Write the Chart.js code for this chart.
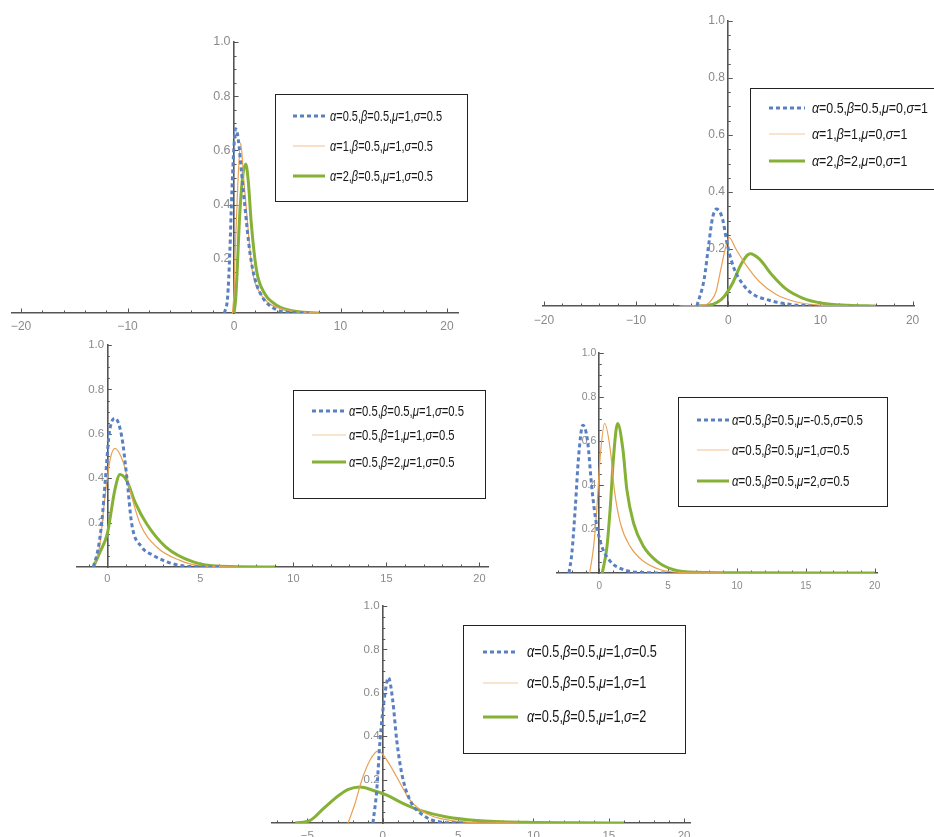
<!DOCTYPE html>
<html><head><meta charset="utf-8">
<script src="https://cdn.jsdelivr.net/npm/chart.js@4"></script>
<style>
html,body{margin:0;padding:0;background:#fff;width:934px;height:837px;overflow:hidden;position:relative;font-family:"Liberation Sans",Arial,sans-serif}
canvas{position:absolute}
.leg{position:absolute;border:1.4px solid #222;background:#fff;box-sizing:border-box}
.row{position:absolute;white-space:nowrap;transform-origin:0 50%;color:#161616;line-height:1}
.row i{font-style:italic}
svg.s{position:absolute;left:0;top:0;overflow:visible;pointer-events:none}
</style></head><body>
<script>
// ---------- tick labels ----------
const X_TICKS_WIDE = [-20, -10, 0, 10, 20];
const X_TICKS_POS = [0, 5, 10, 15, 20];
const X_TICKS_P5 = [-5, 0, 5, 10, 15, 20];
const Y_TICKS = [0.2, 0.4, 0.6, 0.8, 1.0];

// ---------- legend labels ----------
const LEG1 = ["α=0.5,β=0.5,μ=1,σ=0.5", "α=1,β=0.5,μ=1,σ=0.5", "α=2,β=0.5,μ=1,σ=0.5"];
const LEG2 = ["α=0.5,β=0.5,μ=0,σ=1", "α=1,β=1,μ=0,σ=1", "α=2,β=2,μ=0,σ=1"];
const LEG3 = ["α=0.5,β=0.5,μ=1,σ=0.5", "α=0.5,β=1,μ=1,σ=0.5", "α=0.5,β=2,μ=1,σ=0.5"];
const LEG4 = ["α=0.5,β=0.5,μ=-0.5,σ=0.5", "α=0.5,β=0.5,μ=1,σ=0.5", "α=0.5,β=0.5,μ=2,σ=0.5"];
const LEG5 = ["α=0.5,β=0.5,μ=1,σ=0.5", "α=0.5,β=0.5,μ=1,σ=1", "α=0.5,β=0.5,μ=1,σ=2"];

// ---------- panel 1 ----------
const P1_BLUE_X = [-0.9, -0.6, -0.4, -0.2, 0, 0.15, 0.4, 0.7, 1.0, 1.5, 2.0, 2.5, 3.0, 4.0, 5.0, 7.0];
const P1_BLUE_Y = [0, 0.06, 0.22, 0.45, 0.62, 0.68, 0.64, 0.52, 0.40, 0.22, 0.12, 0.07, 0.04, 0.012, 0.003, 0];
const P1_ORANGE_X = [-0.15, 0, 0.1, 0.35, 0.62, 0.9, 1.25, 1.7, 2.5, 3.3, 4.1, 5.5, 8];
const P1_ORANGE_Y = [0, 0.08, 0.22, 0.47, 0.627, 0.50, 0.34, 0.16, 0.07, 0.035, 0.02, 0.006, 0];
const P1_GREEN_X = [0.0, 0.15, 0.3, 0.5, 0.8, 1.1, 1.35, 1.6, 2.1, 2.9, 3.6, 4.4, 6, 8];
const P1_GREEN_Y = [0, 0.05, 0.16, 0.34, 0.50, 0.55, 0.48, 0.34, 0.16, 0.07, 0.04, 0.02, 0.005, 0];

// ---------- panel 2 ----------
const P2_BLUE_X = [-3.4, -2.6, -2.13, -1.7, -1.27, -0.62, -0.07, 0.65, 1.55, 2.6, 4.45, 6.6, 9];
const P2_BLUE_Y = [0, 0.097, 0.214, 0.31, 0.34, 0.305, 0.21, 0.13, 0.078, 0.043, 0.02, 0.006, 0];
const P2_ORANGE_X = [-5.3, -2.4, -1.8, -1.33, -0.8, -0.33, 0.1, 0.83, 1.9, 3.36, 5.2, 7.3, 9.9, 13];
const P2_ORANGE_Y = [0, 0.005, 0.022, 0.05, 0.13, 0.2, 0.24, 0.2, 0.145, 0.086, 0.04, 0.015, 0.003, 0];
const P2_GREEN_X = [-3.5, -1.9, -0.62, 0.47, 1.37, 2.39, 3.36, 4.8, 6.26, 8.06, 10.2, 13, 16];
const P2_GREEN_Y = [0, 0.004, 0.027, 0.08, 0.145, 0.183, 0.165, 0.107, 0.06, 0.028, 0.01, 0.003, 0];

// ---------- panel 3 ----------
const P3_BLUE_X = [-0.75, -0.5, -0.3, -0.1, 0.1, 0.41, 0.77, 1.04, 1.31, 1.85, 2.46, 3.0, 3.5, 4.25, 6];
const P3_BLUE_Y = [0, 0.08, 0.2, 0.4, 0.6, 0.67, 0.59, 0.41, 0.195, 0.09, 0.053, 0.03, 0.015, 0.003, 0];
const P3_ORANGE_X = [-0.7, -0.4, -0.15, 0.14, 0.41, 0.86, 1.3, 1.76, 2.65, 3.9, 4.96, 7];
const P3_ORANGE_Y = [0, 0.1, 0.3, 0.48, 0.534, 0.47, 0.32, 0.195, 0.09, 0.03, 0.006, 0];
const P3_GREEN_X = [-0.75, -0.39, 0, 0.41, 0.68, 1.04, 1.5, 2.11, 3.15, 4.62, 6.06, 9];
const P3_GREEN_Y = [0, 0.068, 0.15, 0.35, 0.417, 0.39, 0.29, 0.195, 0.09, 0.023, 0.003, 0];

// ---------- panel 4 ----------
const P4_BLUE_X = [-2.2, -1.99, -1.74, -1.5, -1.19, -0.85, -0.53, -0.22, 0.19, 0.8, 1.77, 3.2, 5];
const P4_BLUE_Y = [0, 0.09, 0.30, 0.53, 0.672, 0.6, 0.38, 0.227, 0.12, 0.053, 0.015, 0.002, 0];
const P4_ORANGE_X = [-0.7, -0.41, -0.17, 0.07, 0.39, 0.8, 1.09, 1.53, 2.25, 3.22, 4.43, 6.1, 9];
const P4_ORANGE_Y = [0, 0.12, 0.3, 0.53, 0.68, 0.56, 0.38, 0.227, 0.12, 0.053, 0.015, 0.002, 0];
const P4_GREEN_X = [0.22, 0.56, 0.8, 1.04, 1.33, 1.72, 2.0, 2.49, 3.22, 4.19, 5.4, 7.1, 10, 20];
const P4_GREEN_Y = [0, 0.12, 0.3, 0.53, 0.68, 0.56, 0.38, 0.227, 0.12, 0.053, 0.015, 0.003, 0.001, 0];

// ---------- panel 5 ----------
const P5_BLUE_X = [-0.65, -0.4, -0.18, 0.09, 0.38, 0.66, 0.93, 1.26, 1.81, 2.7, 3.8, 5.5];
const P5_BLUE_Y = [0, 0.15, 0.38, 0.566, 0.67, 0.566, 0.38, 0.228, 0.105, 0.035, 0.005, 0];
const P5_ORANGE_X = [-2.3, -1.84, -1.39, -0.84, -0.29, 0.27, 0.93, 1.81, 2.92, 4.47, 6.2, 9];
const P5_ORANGE_Y = [0, 0.09, 0.197, 0.29, 0.332, 0.29, 0.212, 0.105, 0.043, 0.012, 0.002, 0];
const P5_GREEN_X = [-5.8, -4.82, -3.94, -3.05, -2.28, -1.5, -0.62, 0.27, 1.37, 2.48, 4.25, 6.24, 9.56, 13, 16];
const P5_GREEN_Y = [0, 0.012, 0.066, 0.12, 0.155, 0.166, 0.15, 0.128, 0.089, 0.058, 0.028, 0.012, 0.003, 0.001, 0];

// ---------- styles ----------
const STY = [
  {color: '#5a80c2', width: 3, dash: [4, 3]},
  {color: '#e9a052', width: 1.2, dash: []},
  {color: '#84b136', width: 3, dash: []}
];
const AXIS_COLOR = '#555555';
const LABEL_COLOR = '#8a8a8a';
const FONT = '"Liberation Sans", Arial, sans-serif';

const PANELS = [
  {area: [12, 42, 458, 313], xr: [-20.85, 21.03], xt: X_TICKS_WIDE, xStep: 2,
   series: [[P1_BLUE_X, P1_BLUE_Y], [P1_ORANGE_X, P1_ORANGE_Y], [P1_GREEN_X, P1_GREEN_Y]],
   fx: 12, fy: 12.5, xpad: 6,
   leg: {labels: LEG1, box: [275, 94, 468, 202], rows: [116, 146, 176], line: [293, 325], tx: 330, tw: 112, fs: 14}},
  {area: [543, 21, 914, 306], xr: [-20.1, 20.15], xt: X_TICKS_WIDE, xStep: 2,
   series: [[P2_BLUE_X, P2_BLUE_Y], [P2_ORANGE_X, P2_ORANGE_Y], [P2_GREEN_X, P2_GREEN_Y]],
   fx: 12, fy: 12, xpad: 7,
   leg: {labels: LEG2, box: [750, 88, 950, 190], rows: [108, 134, 161], line: [769, 805], tx: 812, tw: 116, fs: 14.5}},
  {area: [77, 345, 488, 567], xr: [-1.63, 20.46], xt: X_TICKS_POS, xStep: 1,
   series: [[P3_BLUE_X, P3_BLUE_Y], [P3_ORANGE_X, P3_ORANGE_Y], [P3_GREEN_X, P3_GREEN_Y]],
   fx: 11, fy: 11.5, xpad: 5,
   leg: {labels: LEG3, box: [293, 390, 486, 499], rows: [411, 435, 462], line: [312, 346], tx: 349, tw: 115, fs: 14}},
  {area: [557, 353, 877, 573], xr: [-3.07, 20.17], xt: X_TICKS_POS, xStep: 1,
   series: [[P4_BLUE_X, P4_BLUE_Y], [P4_ORANGE_X, P4_ORANGE_Y], [P4_GREEN_X, P4_GREEN_Y]],
   fx: 10, fy: 10.5, xpad: 7,
   leg: {labels: LEG4, box: [678, 397, 888, 507], rows: [420, 450, 481], line: [697, 729], tx: 732, tw: 131, fs: 14.5}},
  {area: [272, 606, 690, 823], xr: [-7.35, 20.39], xt: X_TICKS_P5, xStep: 1,
   series: [[P5_BLUE_X, P5_BLUE_Y], [P5_ORANGE_X, P5_ORANGE_Y], [P5_GREEN_X, P5_GREEN_Y]],
   fx: 11.5, fy: 11.5, xpad: 6,
   leg: {labels: LEG5, box: [463, 625, 686, 754], rows: [652, 683, 717], line: [483, 518], tx: 527, tw: 130, fs: 16}}
];

const minorTicks = {
  id: 'minorTicks',
  beforeDatasetsDraw(chart, args, o) {
    const {ctx} = chart; const xs = chart.scales.x, ys = chart.scales.y;
    const y0 = ys.getPixelForValue(0), x0 = xs.getPixelForValue(0);
    ctx.save(); ctx.strokeStyle = AXIS_COLOR; ctx.lineWidth = 1;
    ctx.beginPath();
    const s = o.xStep;
    for (let k = Math.ceil(xs.min / s); k * s <= xs.max; k++) {
      const v = k * s; const major = o.xt.indexOf(v) >= 0;
      const px = Math.round(xs.getPixelForValue(v)) + 0.5;
      ctx.moveTo(px, y0); ctx.lineTo(px, y0 - (major ? 4.5 : 2.5));
    }
    for (let k = 1; k <= 20; k++) {
      const v = k * 0.05; const major = k % 4 === 0;
      const py = Math.round(ys.getPixelForValue(v)) + 0.5;
      ctx.moveTo(x0, py); ctx.lineTo(x0 + (major ? 4.5 : 2.5), py);
    }
    ctx.stroke(); ctx.restore();
  }
};

function fmtX(v) { return v < 0 ? '\u2212' + Math.abs(v) : String(v); }

function makeChart(p) {
  const pad = {left: 30, right: 30, top: 16, bottom: 30};
  const [l, t, r, b] = p.area;
  const W = r - l + pad.left + pad.right, H = b - t + pad.top + pad.bottom;
  const c = document.createElement('canvas');
  c.width = W; c.height = H;
  c.style.left = (l - pad.left) + 'px'; c.style.top = (t - pad.top) + 'px';
  c.style.width = W + 'px'; c.style.height = H + 'px';
  document.body.appendChild(c);
  new Chart(c, {
    type: 'line',
    data: {datasets: p.series.map((s, i) => ({
      data: s[0].map((xv, j) => ({x: xv, y: s[1][j]})),
      borderColor: STY[i].color, borderWidth: STY[i].width, borderDash: STY[i].dash,
      pointRadius: 0, fill: false, cubicInterpolationMode: 'monotone'
    }))},
    options: {
      responsive: false, animation: false, devicePixelRatio: 1,
      layout: {padding: pad},
      events: [],
      plugins: {legend: {display: false}, tooltip: {enabled: false},
        minorTicks: {xStep: p.xStep, xt: p.xt}},
      scales: {
        x: {type: 'linear', axis: 'x', min: p.xr[0], max: p.xr[1], position: {y: 0},
          afterBuildTicks: sc => { sc.ticks = p.xt.map(v => ({value: v})); },
          ticks: {autoSkip: false, maxRotation: 0, padding: p.xpad, color: LABEL_COLOR,
            font: {size: p.fx, family: FONT}, callback: v => fmtX(v)},
          grid: {drawOnChartArea: false, drawTicks: false},
          border: {color: AXIS_COLOR, width: 1.6}},
        y: {type: 'linear', axis: 'y', min: 0, max: 1, position: {x: 0},
          afterBuildTicks: sc => { sc.ticks = Y_TICKS.map(v => ({value: v})); },
          ticks: {autoSkip: false, padding: 4, color: LABEL_COLOR,
            font: {size: p.fy, family: FONT}, callback: v => v.toFixed(1) + ' '},
          grid: {drawOnChartArea: false, drawTicks: false},
          border: {color: AXIS_COLOR, width: 1.6}}
      }
    },
    plugins: [minorTicks]
  });
}

function greek(s) { return s.replace(/([αβμσ])/g, '<i>$1</i>'); }

function makeLegend(L) {
  const [l, t, r, b] = L.box;
  const box = document.createElement('div');
  box.className = 'leg';
  box.style.left = l + 'px'; box.style.top = t + 'px';
  box.style.width = (r - l) + 'px'; box.style.height = (b - t) + 'px';
  document.body.appendChild(box);
  const svgNS = 'http://www.w3.org/2000/svg';
  const svg = document.createElementNS(svgNS, 'svg');
  svg.setAttribute('class', 's'); svg.setAttribute('width', 934); svg.setAttribute('height', 837);
  svg.style.zIndex = 2;
  document.body.appendChild(svg);
  const rows = [];
  L.labels.forEach((txt, i) => {
    const ln = document.createElementNS(svgNS, 'line');
    ln.setAttribute('x1', L.line[0]); ln.setAttribute('x2', L.line[1]);
    ln.setAttribute('y1', L.rows[i]); ln.setAttribute('y2', L.rows[i]);
    ln.setAttribute('stroke', STY[i].color);
    ln.setAttribute('stroke-width', STY[i].width);
    if (STY[i].dash.length) ln.setAttribute('stroke-dasharray', STY[i].dash.join(' '));
    if (i === 1) ln.setAttribute('stroke-opacity', '0.55');
    svg.appendChild(ln);
    const d = document.createElement('div');
    d.className = 'row'; d.innerHTML = greek(txt);
    d.style.left = L.tx + 'px'; d.style.top = L.rows[i] + 'px';
    d.style.fontSize = L.fs + 'px'; d.style.zIndex = 3;
    document.body.appendChild(d);
    rows.push(d);
  });
  const k = L.tw / rows[0].getBoundingClientRect().width;
  rows.forEach(d => { d.style.transform = 'translateY(-50%) scaleX(' + k.toFixed(3) + ')'; });
}

PANELS.forEach(p => makeChart(p));
PANELS.forEach(p => makeLegend(p.leg));
</script>
</body></html>
